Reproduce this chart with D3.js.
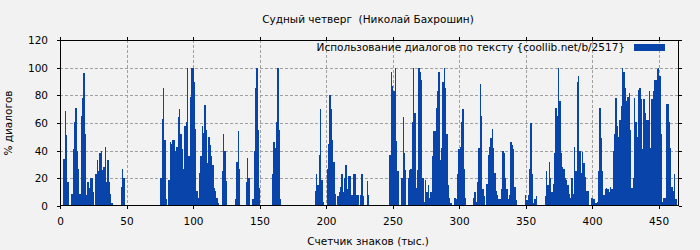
<!DOCTYPE html>
<html>
<head>
<meta charset="utf-8">
<script src="https://cdn.jsdelivr.net/npm/d3@7/dist/d3.min.js"></script>
<style>
	body { margin: 0; background: #f2f2f2; }
	text { font-family: "DejaVu Sans", sans-serif; font-size: 10.5px; fill: #000; white-space: pre; }
</style>
</head>
<body>
<svg id="chart" width="700" height="250"></svg>
<script>
var chartTitle = "Судный четверг  (Николай Бахрошин)";
var seriesName = "Использование диалогов по тексту {coollib.net/b/2517}";
var xTitle = "Счетчик знаков (тыс.)";
var yTitle = "% диалогов";

var xTicks = [0, 50, 100, 150, 200, 250, 300, 350, 400, 450];
var yTicks = [0, 20, 40, 60, 80, 100, 120];

// % of dialogue per thousand characters, index = thousands
var dialogPct = [
	0, 0, 0, 34, 69, 51, 17, 0, 0, 9,
	41, 61, 71, 40, 27, 9, 65, 78, 96, 52,
	8, 17, 13, 20, 20, 10, 0, 23, 33, 25,
	38, 40, 26, 28, 43, 17, 33, 17, 9, 2,
	0, 0, 0, 0, 0, 0, 14, 27, 20, 0,
	0, 0, 0, 0, 0, 0, 0, 0, 0, 0,
	0, 0, 0, 0, 0, 0, 0, 0, 0, 0,
	0, 0, 0, 0, 0, 0, 20, 63, 85, 48,
	5, 0, 19, 46, 45, 48, 48, 40, 43, 64,
	70, 52, 41, 27, 58, 61, 100, 36, 79, 100,
	100, 90, 56, 11, 6, 24, 36, 58, 53, 73,
	55, 31, 50, 44, 36, 30, 13, 11, 6, 2,
	0, 0, 25, 52, 40, 18, 0, 0, 0, 0,
	0, 0, 5, 32, 54, 27, 0, 0, 0, 0,
	17, 35, 20, 0, 0, 5, 40, 85, 100, 55,
	13, 0, 0, 0, 0, 0, 0, 0, 0, 0,
	23, 46, 42, 61, 100, 55, 5, 0, 0, 0,
	0, 0, 0, 0, 0, 0, 0, 0, 0, 0,
	0, 0, 0, 0, 0, 0, 0, 0, 0, 0,
	0, 0, 11, 23, 15, 37, 70, 19, 3, 0,
	0, 27, 45, 80, 70, 48, 32, 9, 0, 7,
	10, 14, 23, 10, 20, 30, 12, 22, 22, 8,
	8, 23, 23, 8, 8, 1, 8, 23, 7, 0,
	0, 18, 8, 0, 0, 0, 0, 0, 0, 0,
	0, 0, 0, 0, 0, 0, 0, 0, 37, 97,
	87, 83, 100, 47, 25, 1, 0, 20, 64, 38,
	26, 0, 20, 26, 27, 61, 100, 67, 13, 26,
	100, 97, 91, 20, 3, 19, 10, 15, 6, 10,
	36, 54, 54, 71, 83, 97, 33, 42, 90, 100,
	85, 52, 15, 6, 2, 0, 0, 6, 5, 23,
	41, 43, 61, 70, 27, 6, 0, 0, 0, 0,
	0, 6, 10, 3, 17, 42, 88, 65, 12, 7,
	1, 16, 37, 43, 49, 56, 42, 24, 11, 8,
	5, 5, 12, 40, 38, 20, 12, 5, 8, 46,
	44, 41, 14, 4, 0, 0, 0, 0, 0, 0,
	8, 4, 8, 27, 60, 23, 2, 5, 7, 1,
	0, 0, 0, 0, 0, 7, 25, 15, 32, 20,
	10, 16, 38, 71, 65, 100, 76, 38, 28, 27,
	20, 19, 15, 9, 6, 20, 9, 43, 25, 90,
	94, 40, 24, 39, 31, 21, 11, 11, 1, 1,
	6, 5, 5, 2, 3, 25, 71, 49, 25, 8,
	12, 13, 12, 10, 14, 12, 40, 52, 78, 58,
	50, 62, 72, 100, 97, 85, 76, 79, 82, 55,
	13, 20, 78, 61, 50, 84, 85, 77, 41, 77,
	67, 62, 62, 83, 42, 77, 83, 91, 91, 99,
	100, 94, 52, 3, 6, 6, 74, 74, 61, 42,
	14, 11, 23, 5, 0
];

var barColor = "#0844aa";
var gridColor = "#a0a0a0";

var svg = d3.select("#chart");
var plot = { left: 60, right: 678.5, top: 40, bottom: 206 };

var x = d3.scaleLinear().domain([0, 465]).range([plot.left, plot.right]);
var y = d3.scaleLinear().domain([0, 120]).range([plot.bottom, plot.top]);

svg.append("rect").attr("width", 700).attr("height", 250).attr("fill", "#f2f2f2");

// grid
var grid = svg.append("g").attr("stroke", gridColor).attr("stroke-dasharray", "3,2")
	.attr("shape-rendering", "crispEdges");
grid.selectAll("line.h").data(yTicks.slice(1, -1)).enter().append("line")
	.attr("x1", plot.left).attr("x2", plot.right)
	.attr("y1", function(d){ return Math.round(y(d)) + 0.5; })
	.attr("y2", function(d){ return Math.round(y(d)) + 0.5; });
grid.selectAll("line.v").data(xTicks.slice(1)).enter().append("line")
	.attr("y1", plot.top).attr("y2", plot.bottom)
	.attr("x1", function(d){ return Math.round(x(d)) + 0.5; })
	.attr("x2", function(d){ return Math.round(x(d)) + 0.5; });

// bars (keep the index as the x value, skip empty ones)
var bars = dialogPct.map(function(v, k){ return { k: k, v: v }; })
	.filter(function(d){ return d.v > 0; });

svg.append("g").attr("fill", barColor).attr("shape-rendering", "crispEdges")
	.selectAll("rect").data(bars).enter().append("rect")
	.attr("x", function(d){ return x(d.k - 0.5); })
	.attr("width", x(1) - x(0))
	.attr("y", function(d){ return y(d.v); })
	.attr("height", function(d){ return y(0) - y(d.v); });

// axes with ticks on all four sides
svg.append("g").attr("transform", "translate(0," + plot.bottom + ")")
	.call(d3.axisBottom(x).tickValues(xTicks).tickSize(3).tickPadding(9).tickFormat(d3.format("d")));
svg.append("g").attr("transform", "translate(0," + plot.top + ")")
	.call(d3.axisTop(x).tickValues(xTicks).tickSize(3).tickFormat(""));
svg.append("g").attr("transform", "translate(" + plot.left + ",0)")
	.call(d3.axisLeft(y).tickValues(yTicks).tickSize(3).tickPadding(9).tickFormat(d3.format("d")));
svg.append("g").attr("transform", "translate(" + plot.right + ",0)")
	.call(d3.axisRight(y).tickValues(yTicks).tickSize(3).tickFormat(""));

svg.selectAll(".domain").remove();
svg.selectAll(".tick line").attr("stroke", "#000").attr("shape-rendering", "crispEdges");
svg.selectAll(".tick text").attr("font-family", "DejaVu Sans, sans-serif").attr("font-size", 10.5).attr("fill", "#000");

svg.append("rect")
	.attr("x", plot.left + 0.5).attr("y", plot.top + 0.5)
	.attr("width", plot.right - plot.left - 1).attr("height", plot.bottom - plot.top - 1)
	.attr("fill", "none").attr("stroke", "#000").attr("shape-rendering", "crispEdges");

// texts
svg.append("text").attr("x", 368).attr("y", 23).attr("text-anchor", "middle").text(chartTitle);
svg.append("text").attr("x", 368).attr("y", 245).attr("text-anchor", "middle").text(xTitle);
svg.append("text").attr("transform", "translate(12,123) rotate(-90)")
	.attr("text-anchor", "middle").text(yTitle);

// legend
svg.append("text").attr("x", 625).attr("y", 51).attr("text-anchor", "end").text(seriesName);
svg.append("rect").attr("x", 634).attr("y", 44).attr("width", 31).attr("height", 7)
	.attr("fill", barColor);
</script>
</body>
</html>
